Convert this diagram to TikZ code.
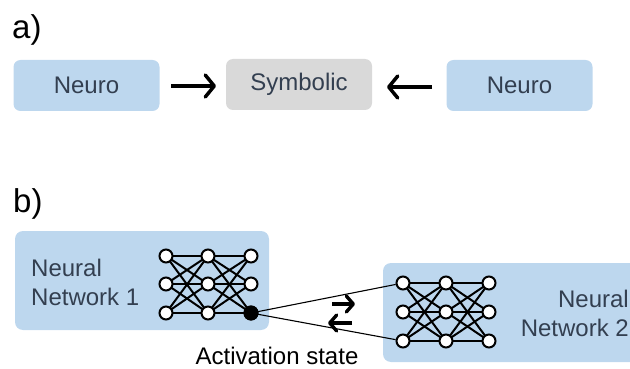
\documentclass[tikz,border=0pt]{standalone}
\usepackage{fontspec}
\setmainfont{Liberation Sans}
\usetikzlibrary{arrows.meta}
\definecolor{boxblue}{HTML}{BDD7EE}
\definecolor{boxgray}{HTML}{D9D9D9}
\definecolor{boxtext}{HTML}{333F50}
\begin{document}
\begin{tikzpicture}[x=1pt,y=-1pt]
\tikzset{
  panel/.style={draw=none, rounded corners=7pt, minimum width=146pt, minimum height=51pt, inner sep=0pt},
  bigpanel/.style={draw=none, rounded corners=8pt, minimum height=99pt, inner sep=0pt, fill=boxblue},
  boxlabel/.style={text=boxtext, font=\fontsize{24}{29}\selectfont},
  partlabel/.style={font=\fontsize{33}{36}\selectfont, inner sep=0pt},
  neuron/.style={circle, draw, fill=white, line width=2pt, minimum size=13pt, inner sep=0pt},
  active/.style={circle, fill=black, minimum size=15pt, inner sep=0pt},
  flow/.style={line width=3.5pt, -{Straight Barb[length=9pt,width=22pt,line width=3.5pt,round]}},
  swaparrow/.style={line width=3.4pt, -{Straight Barb[length=7pt,width=16pt,line width=3.4pt,round]}}
}
\useasboundingbox (0,0) rectangle (630,369);
\clip (0,0) rectangle (630,369);
% part a
\node[partlabel, anchor=base west] (la) at (12,39) {a)};
\node[panel, fill=boxblue, boxlabel] (neuroL) at (86.5,85.5) {Neuro};
\node[panel, fill=boxgray, boxlabel] (symb) at (299,84.5) {Symbolic};
\node[panel, fill=boxblue, boxlabel] (neuroR) at (519.5,85.5) {Neuro};
\coordinate (fa) at (171,86);
\coordinate (fb) at (216,86);
\coordinate (ga) at (432,87);
\coordinate (gb) at (387,87);
\draw[flow] (fa) -- (fb);
\draw[flow] (ga) -- (gb);
% part b
\node[partlabel, anchor=base west] (lb) at (13,212) {b)};
\node[bigpanel, minimum width=254pt] (nn1) at (142,280.5) {};
\node[bigpanel, minimum width=276pt] (nn2) at (521,312.5) {};
\node[boxlabel, align=left, anchor=west, inner sep=0pt] (t1) at (31,282) {Neural\\Network 1};
\node[boxlabel, align=right, anchor=east, inner sep=0pt] (t2) at (629,313) {Neural\\Network 2};
% first network
\foreach \i/\x in {1/166,2/208,3/251}
  \foreach \j/\y in {1/256,2/284,3/313}
    \coordinate (p\i\j) at (\x,\y);
\foreach \i/\k in {1/2,2/3}
  \foreach \j in {1,2,3}
    \foreach \l in {1,2,3}
      \draw[line width=2pt] (p\i\j) -- (p\k\l);
\foreach \i in {1,2,3}
  \foreach \j in {1,2,3}
    \node[neuron] (a\i\j) at (p\i\j) {};
\node[active] (act) at (p33) {};
% second network
\foreach \i/\x in {1/403,2/446,3/489}
  \foreach \j/\y in {1/283,2/312,3/341}
    \coordinate (q\i\j) at (\x,\y);
\foreach \i/\k in {1/2,2/3}
  \foreach \j in {1,2,3}
    \foreach \l in {1,2,3}
      \draw[line width=2pt] (q\i\j) -- (q\k\l);
\foreach \i in {1,2,3}
  \foreach \j in {1,2,3}
    \node[neuron] (b\i\j) at (q\i\j) {};
% link between the two
\draw[line width=1.1pt] (act.center) -- (b11);
\draw[line width=1.1pt] (act.center) -- (b13);
\coordinate (sa) at (332,304);
\coordinate (sb) at (355,304);
\coordinate (sc) at (352,323);
\coordinate (sd) at (328,323);
\draw[swaparrow] (sa) -- (sb);
\draw[swaparrow] (sc) -- (sd);
\node[font=\fontsize{24}{29}\selectfont, inner sep=0pt] (actlabel) at (277,356) {Activation state};
\end{tikzpicture}
\end{document}
